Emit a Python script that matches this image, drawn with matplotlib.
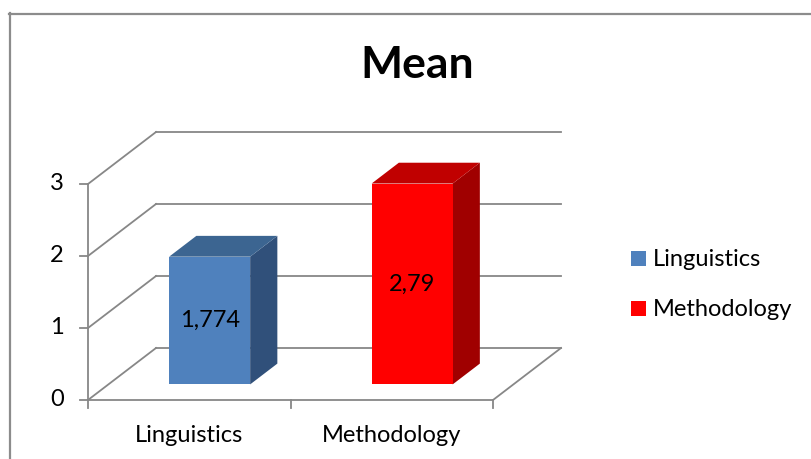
import matplotlib
matplotlib.use("Agg")
import matplotlib.pyplot as plt
from matplotlib.patches import Polygon, Rectangle
from matplotlib.lines import Line2D

# ---- data ----
categories = ["Linguistics", "Methodology"]
values = [1.774, 2.79]
value_labels = ["1,774", "2,79"]
y_ticks = [0, 1, 2, 3]
title = "Mean"

front_colors = ["#4F81BD", "#FF0000"]
top_colors = ["#3C6591", "#C00000"]
side_colors = ["#30507A", "#A00000"]

FONT = "Lato"
FS = 17
W, H, DPI = 811, 459, 100

fig = plt.figure(figsize=(W / DPI, H / DPI), dpi=DPI)
ax = fig.add_axes([0, 0, 1, 1])
ax.set_axis_off()

# front plane geometry in pixels: category 0..2 spans px 88..493, value 0..3 spans py 400..184
X0_PX, CAT_PX = 88.0, 202.5
Y0_PX, VAL_PX = 400.0, 72.0
ax.set_xlim((0 - X0_PX) / CAT_PX, (W - X0_PX) / CAT_PX)
ax.set_ylim((Y0_PX - H) / VAL_PX, (Y0_PX - 0) / VAL_PX)

# oblique depth vector (one full depth unit)
DX = 68.0 / CAT_PX
DY = 52.0 / VAL_PX


def P(x, v, z=0.0):
    return (x + z * DX, v + z * DY)


def px(xp, yp):
    return ((xp - X0_PX) / CAT_PX, (Y0_PX - yp) / VAL_PX)


ncat = len(categories)
vmax = max(y_ticks)
grid_c = "#878787"
lw = 1.3

# back wall and left wall gridlines
for t in y_ticks:
    a, b = P(0, t, 1), P(ncat, t, 1)
    ax.plot([a[0], b[0]], [a[1], b[1]], color=grid_c, lw=lw, zorder=1)
    c = P(0, t, 0)
    ax.plot([c[0], a[0]], [c[1], a[1]], color=grid_c, lw=lw, zorder=1)

# floor outline
f1, f2, f3 = P(0, 0, 0), P(ncat, 0, 0), P(ncat, 0, 1)
ax.plot([f1[0], f2[0], f3[0]], [f1[1], f2[1], f3[1]], color=grid_c, lw=lw, zorder=1)

# value axis with ticks
ax.plot([0, 0], [0, vmax], color=grid_c, lw=lw, zorder=2)
tick_len = 8.0 / CAT_PX
for t in y_ticks:
    ax.plot([-tick_len, 0], [t, t], color=grid_c, lw=lw, zorder=2)
    ax.text(px(57, 0)[0], t, str(t), ha="center", va="center",
            fontsize=FS, family=FONT, color="black")

# category axis ticks
tick_h = 8.0 / VAL_PX
for i in range(ncat + 1):
    ax.plot([i, i], [0, -tick_h], color=grid_c, lw=lw, zorder=2)

# 3D bars
bw, z0, z1 = 0.4, 0.3, 0.7
for i, (v, lab) in enumerate(zip(values, value_labels)):
    xl = i + 0.5 - bw / 2
    xr = i + 0.5 + bw / 2
    side = [P(xr, 0, z0), P(xr, 0, z1), P(xr, v, z1), P(xr, v, z0)]
    top = [P(xl, v, z0), P(xr, v, z0), P(xr, v, z1), P(xl, v, z1)]
    front = [P(xl, 0, z0), P(xr, 0, z0), P(xr, v, z0), P(xl, v, z0)]
    ax.add_patch(Polygon(side, closed=True, facecolor=side_colors[i], edgecolor="none", zorder=3))
    ax.add_patch(Polygon(top, closed=True, facecolor=top_colors[i], edgecolor="none", zorder=3))
    ax.add_patch(Polygon(front, closed=True, facecolor=front_colors[i], edgecolor="none", zorder=4))
    cx, cy = P(i + 0.5, v / 2, z0)
    ax.text(cx, cy, lab, ha="center", va="center", fontsize=FS, family=FONT,
            color="black", zorder=5)

# category labels
for i, name in enumerate(categories):
    ax.text(i + 0.5, px(0, 435)[1], name, ha="center", va="center",
            fontsize=FS, family=FONT, color="black")

# title
ax.text(px(417, 0)[0], px(0, 65)[1], title, ha="center", va="center",
        fontsize=32, fontweight="bold", family=FONT, color="black")

# legend
for i, name in enumerate(categories):
    ytop = 251 + i * 50
    a = px(631, ytop + 15)
    ax.add_patch(Rectangle(a, 15 / CAT_PX, 15 / VAL_PX, facecolor=front_colors[i],
                           edgecolor="none"))
    ax.text(px(653, 0)[0], px(0, ytop + 8)[1], name, ha="left", va="center",
            fontsize=FS, family=FONT, color="black")

# chart area border
bc = "#8C8C8C"
fig.add_artist(Line2D([9.5 / W, 9.5 / W], [0, 1 - 13 / H], transform=fig.transFigure,
                      color=bc, lw=1.6))
fig.add_artist(Line2D([9 / W, 1], [1 - 13.5 / H, 1 - 13.5 / H], transform=fig.transFigure,
                      color=bc, lw=1.6))

fig.savefig("out.png", dpi=DPI, facecolor="white")
